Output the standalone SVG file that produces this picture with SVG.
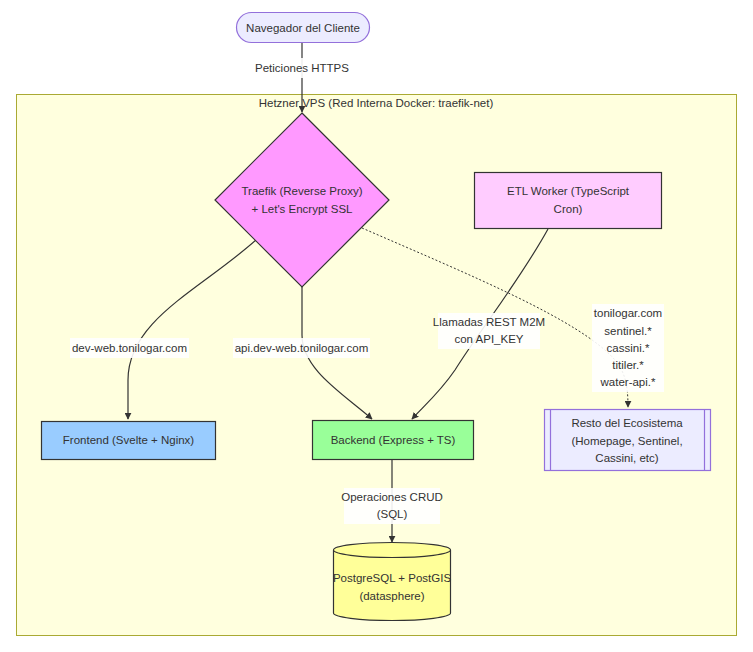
<svg xmlns="http://www.w3.org/2000/svg" width="753" height="652" viewBox="0 0 753 652">
<defs>
<style>
text{font-family:"Liberation Sans",Arial,sans-serif;font-size:11.5px;fill:#333;text-anchor:middle;dominant-baseline:central}
.edge{fill:none;stroke:#333;stroke-width:1.2}
.dot{fill:none;stroke:#333;stroke-width:1;stroke-dasharray:2 2}
.lbl{fill:#fff;opacity:0.9}
.node{stroke:#333;stroke-width:1.2}
</style>
<marker id="arr" viewBox="0 0 10 10" refX="9" refY="5" markerWidth="7" markerHeight="7" orient="auto-start-reverse" markerUnits="userSpaceOnUse">
<path d="M0,0 L10,5 L0,10 z" fill="#333"/>
</marker>
</defs>
<rect width="753" height="652" fill="#fff"/>
<g id="vps">
<rect x="16.5" y="94.5" width="720" height="541" fill="#ffffde" stroke="#aaaa33" stroke-width="1"/>
<text x="376" y="103">Hetzner VPS (Red Interna Docker: traefik-net)</text>
</g>
<g id="connectors">
<path class="edge" d="M302,42 L302,112" marker-end="url(#arr)"/>
<path class="edge" d="M256,240 C200,290 128,320 128,380 L128,419" marker-end="url(#arr)"/>
<path class="edge" d="M302,287 L302,335 C302,370 345,395 372,419" marker-end="url(#arr)"/>
<path class="edge" d="M548,229 C520,280 480,330 455,370 C440,392 425,405 412,419" marker-end="url(#arr)"/>
<path class="dot" d="M362,228 C470,275 580,320 615,360 C625,372 628,385 628,407" marker-end="url(#arr)"/>
<path class="edge" d="M392,460 L392,542" marker-end="url(#arr)"/>
<rect class="lbl" x="258" y="58" width="88" height="20"/>
<text x="302" y="68">Peticiones HTTPS</text>
<rect class="lbl" x="70" y="338" width="119" height="20"/>
<text x="129.5" y="348">dev-web.tonilogar.com</text>
<rect class="lbl" x="233" y="338" width="137" height="20"/>
<text x="301.5" y="348">api.dev-web.tonilogar.com</text>
<rect class="lbl" x="438" y="313" width="102" height="36"/>
<text x="489" y="322">Llamadas REST M2M</text>
<text x="489" y="339">con API_KEY</text>
<rect class="lbl" x="592" y="304" width="72" height="88"/>
<text x="628" y="313">tonilogar.com</text>
<text x="628" y="331">sentinel.*</text>
<text x="628" y="348">cassini.*</text>
<text x="628" y="365">titiler.*</text>
<text x="628" y="382">water-api.*</text>
<rect class="lbl" x="344" y="488" width="96" height="36"/>
<text x="392" y="497">Operaciones CRUD</text>
<text x="392" y="514">(SQL)</text>
</g>
<g id="client">
<rect x="236.5" y="12.5" width="133" height="30" rx="15" ry="15" fill="#ececff" stroke="#9370db" stroke-width="1.2"/>
<text x="303" y="27.5">Navegador del Cliente</text>
</g>
<g id="traefik">
<polygon class="node" points="302,113 389,200 302,287 215,200" fill="#ff99ff"/>
<text x="302" y="191">Traefik (Reverse Proxy)</text>
<text x="302" y="209">+ Let's Encrypt SSL</text>
</g>
<g id="etl">
<rect class="node" x="474.5" y="172.5" width="187" height="56" fill="#ffccff"/>
<text x="568" y="191">ETL Worker (TypeScript</text>
<text x="568" y="209">Cron)</text>
</g>
<g id="frontend">
<rect class="node" x="41.5" y="421.5" width="174" height="38" fill="#99ccff"/>
<text x="128.5" y="440">Frontend (Svelte + Nginx)</text>
</g>
<g id="backend">
<rect class="node" x="312.5" y="420.5" width="161" height="39" fill="#99ff99"/>
<text x="393" y="440">Backend (Express + TS)</text>
</g>
<g id="resto">
<rect x="544.5" y="409.5" width="166" height="61" fill="#ececff" stroke="#9370db" stroke-width="1.2"/>
<line x1="550.5" y1="409.5" x2="550.5" y2="470.5" stroke="#9370db" stroke-width="1.2"/>
<line x1="704.5" y1="409.5" x2="704.5" y2="470.5" stroke="#9370db" stroke-width="1.2"/>
<text x="627" y="423">Resto del Ecosistema</text>
<text x="627" y="441">(Homepage, Sentinel,</text>
<text x="627" y="458">Cassini, etc)</text>
</g>
<g id="db">
<path class="node" d="M333.5,550 A58.5,7.5 0 0 1 450.5,550 L450.5,613 A58.5,7.5 0 0 1 333.5,613 Z" fill="#ffff99"/>
<path class="node" d="M333.5,550 A58.5,7.5 0 0 0 450.5,550" fill="none"/>
<text x="392" y="578">PostgreSQL + PostGIS</text>
<text x="392" y="596">(datasphere)</text>
</g>
</svg>
